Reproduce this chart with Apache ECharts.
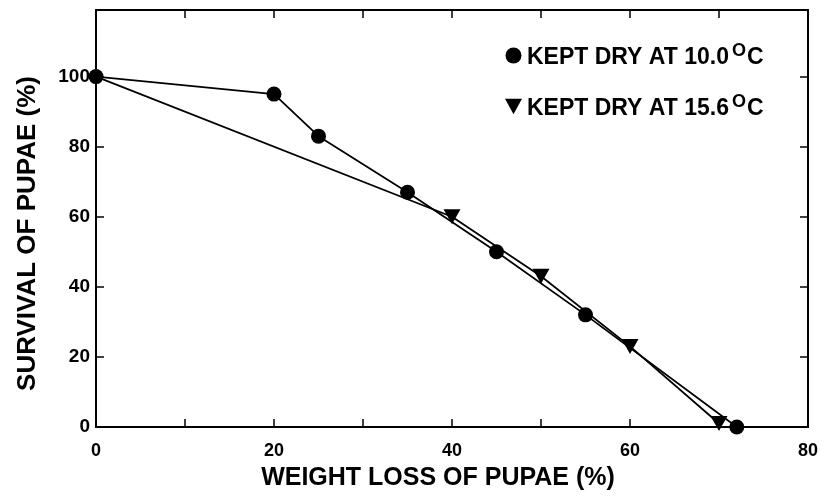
<!DOCTYPE html>
<html><head><meta charset="utf-8">
<script src="https://cdn.jsdelivr.net/npm/echarts@6/dist/echarts.min.js"></script>
<style>html,body{margin:0;padding:0;background:#fff}#c{width:826px;height:496px}</style>
</head><body><div id="c"></div>
<script>
const dry10X = [0, 20, 25, 35, 45, 55, 72];
const dry10Y = [100, 95, 83, 67, 50, 32, 0];
const dry156X = [0, 40, 50, 60, 70];
const dry156Y = [100, 60, 43, 23, 1];
const xTickLabels = [0, 20, 40, 60, 80];
const yTickLabels = [0, 20, 40, 60, 80, 100];
const seriesNames = ['KEPT DRY AT 10.0°C', 'KEPT DRY AT 15.6°C'];

const font = 'Liberation Sans, Arial, sans-serif';
const chart = echarts.init(document.getElementById('c'));
const tri = 'path://M0,0 L10,0 L5,9 Z';
function common(){
  return {
    axisLine: {show: true, onZero: false, lineStyle: {color: '#000', width: 2}},
    axisTick: {show: true, inside: true, length: 8, lineStyle: {color: '#000', width: 1.5}},
    splitLine: {show: false}
  };
}
function pts(a, b, hideFirst){
  return a.map((v, i) => (hideFirst && i === 0) ? {value: [v, b[i]], symbol: 'none'} : [v, b[i]]);
}
chart.setOption({
  animation: false,
  backgroundColor: '#fff',
  grid: {left: 96, right: 18, top: 10, bottom: 67},
  legend: {
    orient: 'vertical', left: 500, top: 37, itemGap: 21,
    itemWidth: 17, itemHeight: 16,
    data: [
      {name: seriesNames[0], icon: 'circle'},
      {name: seriesNames[1], icon: tri}
    ],
    formatter: function(n){
      const p = n.split('°');
      return '{a|' + p[0] + '}{s|O}{a|' + p[1] + '}';
    },
    textStyle: {
      color: '#000', fontFamily: font,
      rich: {
        a: {fontSize: 23, fontWeight: 'bold', fontFamily: font, color: '#000', verticalAlign: 'bottom', lineHeight: 27},
        s: {fontSize: 18, fontWeight: 'bold', fontFamily: font, color: '#000', verticalAlign: 'top', lineHeight: 27, padding: [0, 1, 12, 3]}
      }
    }
  },
  xAxis: [
    Object.assign(common(), {
      type: 'value', min: 0, max: 80, interval: 10, position: 'bottom',
      name: 'WEIGHT LOSS OF PUPAE (%)', nameLocation: 'middle', nameGap: 39,
      nameTextStyle: {fontSize: 25, fontWeight: 'bold', fontFamily: font, color: '#000', padding: [0, 28, 0, 0]},
      axisLabel: {
        margin: 15, fontSize: 18, fontWeight: 'bold', fontFamily: font, color: '#000',
        formatter: v => xTickLabels.indexOf(v) >= 0 ? String(v) : ''
      }
    }),
    Object.assign(common(), {
      type: 'value', min: 0, max: 80, interval: 10, position: 'top',
      axisLabel: {show: false}
    })
  ],
  yAxis: [
    Object.assign(common(), {
      type: 'value', min: 0, max: 119, interval: 20, position: 'left',
      name: 'SURVIVAL OF PUPAE (%)', nameLocation: 'middle', nameGap: 55,
      nameTextStyle: {fontSize: 26, fontWeight: 'bold', fontFamily: font, color: '#000', padding: [0, 30, 0, 0]},
      axisLabel: {
        margin: 6, fontSize: 19, fontWeight: 'bold', fontFamily: font, color: '#000',
        formatter: v => yTickLabels.indexOf(v) >= 0 ? String(v) : ''
      }
    }),
    Object.assign(common(), {
      type: 'value', min: 0, max: 119, interval: 20, position: 'right',
      axisLabel: {show: false}
    })
  ],
  series: [
    {
      name: seriesNames[0], type: 'line', data: pts(dry10X, dry10Y, false),
      symbol: 'circle', symbolSize: 15,
      lineStyle: {color: '#000', width: 1.8}, itemStyle: {color: '#000'}, z: 3
    },
    {
      name: seriesNames[1], type: 'line', data: pts(dry156X, dry156Y, true),
      symbol: tri, symbolSize: [17, 15],
      lineStyle: {color: '#000', width: 1.8}, itemStyle: {color: '#000'}, z: 2
    }
  ]
});
</script></body></html>
